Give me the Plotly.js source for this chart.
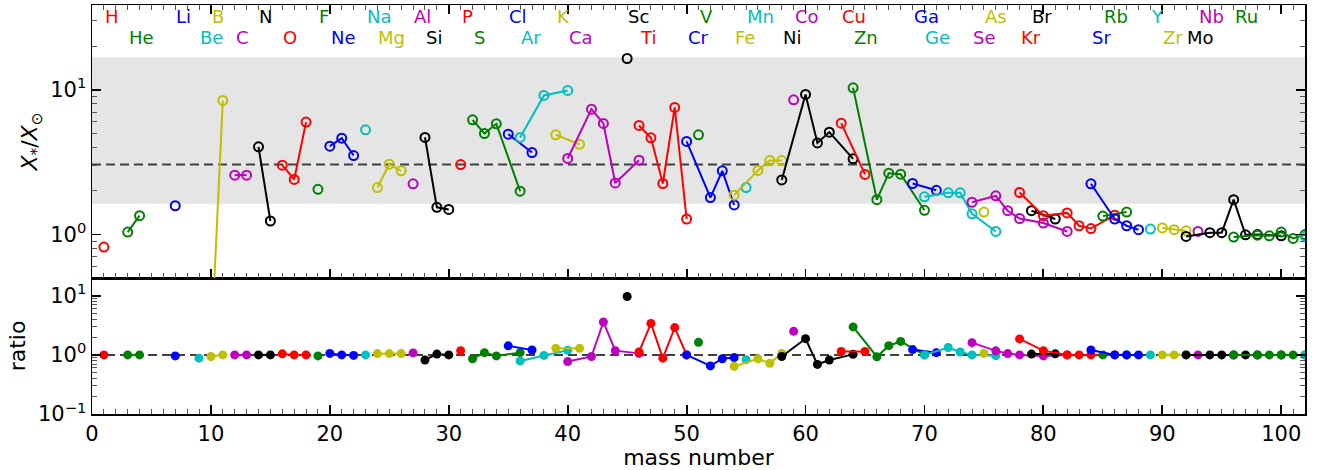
<!DOCTYPE html>
<html><head><meta charset="utf-8">
<script src="https://cdn.plot.ly/plotly-3.0.1.min.js"></script>
<style>html,body{margin:0;padding:0;background:#fff}</style>
</head><body><div id="chart" style="width:1320px;height:470px"></div>
<script>
// ---- data ----
const elements = ['H','He','Li','Be','B','C','N','O','F','Ne','Na','Mg','Al','Si','P','S','Cl','Ar','K','Ca','Sc','Ti','V','Cr','Mn','Fe','Co','Ni','Cu','Zn','Ga','Ge','As','Se','Br','Kr','Rb','Sr','Y','Zr','Nb','Mo','Ru','Pd'];
const atomicZ = [1,2,3,4,5,6,7,8,9,10,11,12,13,14,15,16,17,18,19,20,21,22,23,24,25,26,27,28,29,30,31,32,33,34,35,36,37,38,39,40,41,42,44,46];
const isoMass = [
 [1],[3,4],[7],[9],[10,11],[12,13],[14,15],[16,17,18],[19],[20,21,22],[23],[24,25,26],[27],[28,29,30],[31],
 [32,33,34,36],[35,37],[36,38,40],[39,41],[40,42,43,44,46],[45],[46,47,48,49,50],[51],[50,52,53,54],[55],
 [54,56,57,58],[59],[58,60,61,62,64],[63,65],[64,66,67,68,70],[69,71],[70,72,73,74,76],[75],[74,76,77,78,80,82],
 [79,81],[78,80,82,83,84,86],[85,87],[84,86,87,88],[89],[90,91,92],[93],[92,94,95,96,97,98,100],[96,98,99,100,101,102],[102]
];
// X*/X_sun (upper panel)
const starOverSun = [
 [0.82],[1.04,1.35],[1.58],[0.35],[0.154,8.42],[2.57,2.57],[4.03,1.24],[3.01,2.40,5.97],[2.05],[4.07,4.62,3.51],[5.28],[2.11,3.06,2.75],[2.24],[4.68,1.54,1.49],[3.04],
 [6.19,4.98,5.81,1.99],[4.93,3.68],[4.68,9.12,9.87],[4.88,4.19],[3.35,7.33,5.84,2.27,3.26],[16.4],[5.66,4.65,2.25,7.54,1.28],[4.88],[4.39,1.80,2.75,1.60],[2.11],
 [1.87,2.77,3.24,3.24],[8.51],[2.38,9.27,4.29,5.09,3.33],[5.87,2.60],[10.3,1.74,2.65,2.61,1.47],[2.25,2.02],[1.82,1.94,1.94,1.39,1.05],[1.43],[1.67,1.85,1.46,1.29,1.20,1.05],
 [1.46,1.28],[1.95,1.35,1.41,1.15,1.10,1.36],[1.34,1.43],[2.24,1.28,1.15,1.08],[1.09],[1.11,1.08,1.06],[1.05],[0.97,1.03,1.03,1.74,0.995,1.0,0.98],[0.96,0.99,0.98,1.04,0.94,1.0],[0.975]
];
// ratio (lower panel)
const ratioVals = [
 [1.0],[1.0,1.0],[0.96],[0.88],[0.94,1.0],[1.0,1.0],[1.0,1.0],[1.04,1.0,1.0],[0.96],[1.06,1.0,0.98],[1.0],[1.05,1.05,1.05],[1.08],[0.82,1.03,1.0],[1.18],
 [0.86,1.09,0.96,1.09],[1.42,1.21],[0.79,0.98,1.2],[1.29,1.29],[0.77,0.94,3.6,1.18,1.06],[9.7],[1.12,3.41,0.88,2.89,1.0],[1.63],[1.0,0.65,0.86,0.9],[0.83],
 [0.64,0.86,0.72,1.06],[2.5],[0.94,1.88,0.69,0.82,1.02],[1.14,1.14],[2.97,0.93,1.43,1.69,1.0],[1.23,1.09],[1.0,1.33,1.12,1.0,0.97],[1.06],[1.61,1.17,1.05,1.0,0.96,1.0],
 [1.03,1.04],[1.86,1.18,1.0,1.0,1.0,1.0],[1.0,1.0],[1.21,1.0,1.0,1.0],[1.0],[1.0,1.0,1.0],[1.0],[1.0,1.0,1.0,1.0,1.0,1.0,1.0],[1.0,1.0,1.0,1.0,1.0,1.0],[1.0]
];
const bandLow = 1.63, bandHigh = 16.7;
const meanLevel = 3.04;
const unityLevel = 1.0;
const colorCycle = ['#ff0000','#008000','#0000ff','#00bfbf','#bfbf00','#bf00bf','#000000'];

// ---- build ----
const FONT = 'DejaVu Sans, sans-serif';
const traces = [];
const annotations = [];
elements.forEach((el, i) => {
  const col = colorCycle[(atomicZ[i]-1) % 7];
  traces.push({x: isoMass[i], y: starOverSun[i], xaxis:'x2', yaxis:'y2', type:'scatter', mode:'lines+markers',
    line:{color:col, width:2}, marker:{symbol:'circle-open', size:9, color:col, line:{width:2, color:col}},
    cliponaxis:true, showlegend:false, hoverinfo:'skip'});
});
elements.forEach((el, i) => {
  const col = colorCycle[(atomicZ[i]-1) % 7];
  traces.push({x: isoMass[i], y: ratioVals[i], xaxis:'x', yaxis:'y', type:'scatter', mode:'lines+markers',
    line:{color:col, width:2}, marker:{symbol:'circle', size:9, color:col},
    cliponaxis:true, showlegend:false, hoverinfo:'skip'});
  const xm = Math.min(...isoMass[i]);
  if (xm < 102) {
    annotations.push({text: el, x: xm, xref:'x2', xanchor:'left', y: (i % 2 === 0) ? 0.973 : 0.920, yref:'paper', yanchor:'middle',
      showarrow:false, font:{family:FONT, size:18, color:col}, borderpad:0});
  }
});

function minorLog(lo, hi) {
  const v = [];
  for (let d = -2; d <= 2; d++) for (let k = 2; k <= 9; k++) { const t = k*Math.pow(10,d); if (t>=lo && t<=hi) v.push(t); }
  return v;
}

const xCommon = {range:[0,102], ticks:'inside', ticklen:9, tickwidth:1.8, tickcolor:'#000', dtick:10, tick0:0,
  showline:true, linecolor:'#000', linewidth:1.5, showgrid:false, zeroline:false,
  minor:{ticks:'inside', ticklen:5, tickwidth:1, tickcolor:'#555', dtick:1, showgrid:false},
  tickfont:{family:FONT, size:21, color:'#000'}};

const layout = {
  width:1320, height:470,
  margin:{l:92, r:15, t:5, b:56},
  paper_bgcolor:'#fff', plot_bgcolor:'rgba(0,0,0,0)',
  font:{family:FONT, color:'#000'},
  xaxis: Object.assign({}, xCommon, {domain:[0,1], anchor:'y', mirror:true,
    title:{text:'mass number', font:{family:FONT, size:22}, standoff:4}}),
  xaxis2: Object.assign({}, xCommon, {domain:[0,1], anchor:'y2', matches:'x', mirror:'allticks', showticklabels:false}),
  yaxis: {domain:[0,0.3325], anchor:'x', type:'log', range:[-1, 1.3],
    tickvals:[0.1,1,10], ticktext:['10<sup>−1</sup>','10<sup>0</sup>','10<sup>1</sup>'],
    ticks:'inside', ticklen:9, tickwidth:1.8, tickcolor:'#000', mirror:'allticks',
    showline:true, linecolor:'#000', linewidth:1.5, showgrid:false, zeroline:false,
    minor:{tickvals:minorLog(0.1,20), ticks:'inside', ticklen:5, tickwidth:1, tickcolor:'#555', showgrid:false},
    tickfont:{family:FONT, size:21, color:'#000'},
    title:{text:'ratio', font:{family:FONT, size:22}, standoff:6}},
  yaxis2: {domain:[0.3325,1], anchor:'x2', type:'log', range:[-0.3, 1.584],
    tickvals:[1,10], ticktext:['10<sup>0</sup>','10<sup>1</sup>'],
    ticks:'inside', ticklen:9, tickwidth:1.8, tickcolor:'#000', mirror:'allticks',
    showline:true, linecolor:'#000', linewidth:1.5, showgrid:false, zeroline:false,
    minor:{tickvals:minorLog(0.5,40), ticks:'inside', ticklen:5, tickwidth:1, tickcolor:'#555', showgrid:false},
    tickfont:{family:FONT, size:21, color:'#000'},
    title:{text:'<i>X</i><sub>*</sub>/<i>X</i><sub>⊙</sub>', font:{family:FONT, size:22}, standoff:6}},
  shapes:[
    {type:'rect', xref:'x2 domain', yref:'y2', x0:0, x1:1, y0:bandLow, y1:bandHigh, fillcolor:'#e5e5e5', line:{width:0}, layer:'below'},
    {type:'line', xref:'x2 domain', yref:'y2', x0:0, x1:1, y0:meanLevel, y1:meanLevel, line:{color:'#404040', width:2, dash:'9px,5px'}, layer:'below'},
    {type:'line', xref:'x domain', yref:'y', x0:0, x1:1, y0:unityLevel, y1:unityLevel, line:{color:'#404040', width:2, dash:'9px,5px'}, layer:'below'}
  ],
  annotations: annotations
};
Plotly.newPlot('chart', traces, layout, {displayModeBar:false, staticPlot:true});
</script></body></html>
